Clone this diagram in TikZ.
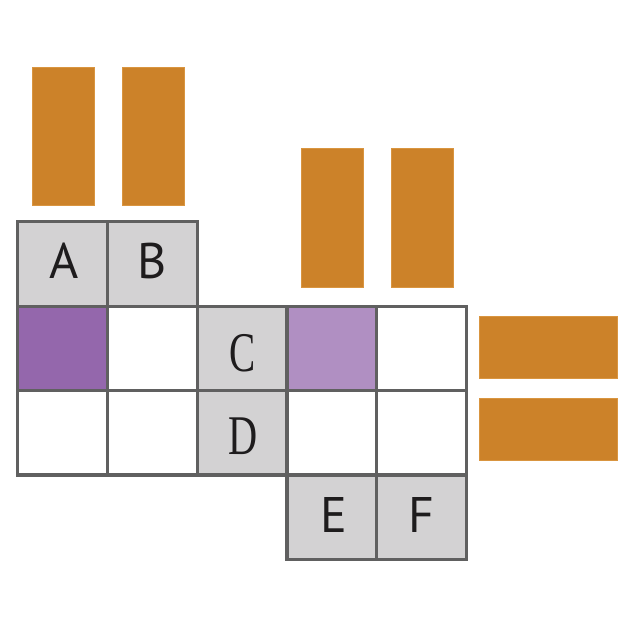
\documentclass[tikz,border=0pt]{standalone}
\usepackage{fontspec}
\setsansfont{PT Sans}
\newfontfamily\labserif{Liberation Serif}
\begin{document}
\begin{tikzpicture}[x=1pt,y=-1pt,
  cell/.style={draw=cellline,line width=3.2pt,minimum width=89.8pt,minimum height=84.4pt,inner sep=0pt,outer sep=0pt,anchor=north west},
  lab/.style={cell,fill=cellgrey},
  blank/.style={cell,fill=white},
  bar/.style={fill=barorange,draw=baredge,line width=0.8pt},
  sfl/.style={font=\sffamily\fontsize{50}{50}\selectfont,text=labtext},
  rml/.style={font=\labserif\fontsize{56}{56}\selectfont,text=labtext}]
\definecolor{cellline}{HTML}{606060}
\definecolor{cellgrey}{HTML}{D3D2D3}
\definecolor{darkpurple}{HTML}{9467AC}
\definecolor{lightpurple}{HTML}{B08FC2}
\definecolor{barorange}{HTML}{CC8229}
\definecolor{baredge}{HTML}{D99540}
\definecolor{labtext}{HTML}{1E1C1D}
\useasboundingbox (0,0) rectangle (630,629);
% orange bars
\draw[bar] (32,67) rectangle (94,205);
\draw[bar] (122,67) rectangle (184,205);
\draw[bar] (301,148) rectangle (363,287);
\draw[bar] (391,148) rectangle (453,287);
\draw[bar] (479,316) rectangle (617,378);
\draw[bar] (479,398) rectangle (617,460);
% left block
\node[lab] (A) at (17.5,221.7) {};
\node[lab] (B) at (107.3,221.7) {};
\node[cell,fill=darkpurple] (L1) at (17.5,306.1) {};
\node[blank] (L2) at (107.3,306.1) {};
\node[blank] (L3) at (17.5,390.5) {};
\node[blank] (L4) at (107.3,390.5) {};
% middle
\node[lab] (C) at (197.1,306.1) {};
\node[lab] (D) at (197.1,390.5) {};
% right block
\node[cell,fill=lightpurple] (R1) at (286.9,306.1) {};
\node[blank] (R2) at (376.7,306.1) {};
\node[blank] (R3) at (286.9,390.5) {};
\node[blank] (R4) at (376.7,390.5) {};
\node[lab] (E) at (286.9,474.9) {};
\node[lab] (F) at (376.7,474.9) {};
% labels
\node[sfl] at ([xshift=2pt,yshift=3pt]A.center) {A};
\node[sfl] at ([yshift=3pt]B.center) {B};
\node[rml] at ([xshift=1pt,yshift=-5pt]C.center) {\scalebox{0.7}[1]{C}};
\node[rml] at ([xshift=1pt,yshift=-4pt]D.center) {\scalebox{0.72}[1]{D}};
\node[sfl] at ([xshift=2pt,yshift=2pt]E.center) {E};
\node[sfl] at ([yshift=2pt]F.center) {F};
\end{tikzpicture}
\end{document}
